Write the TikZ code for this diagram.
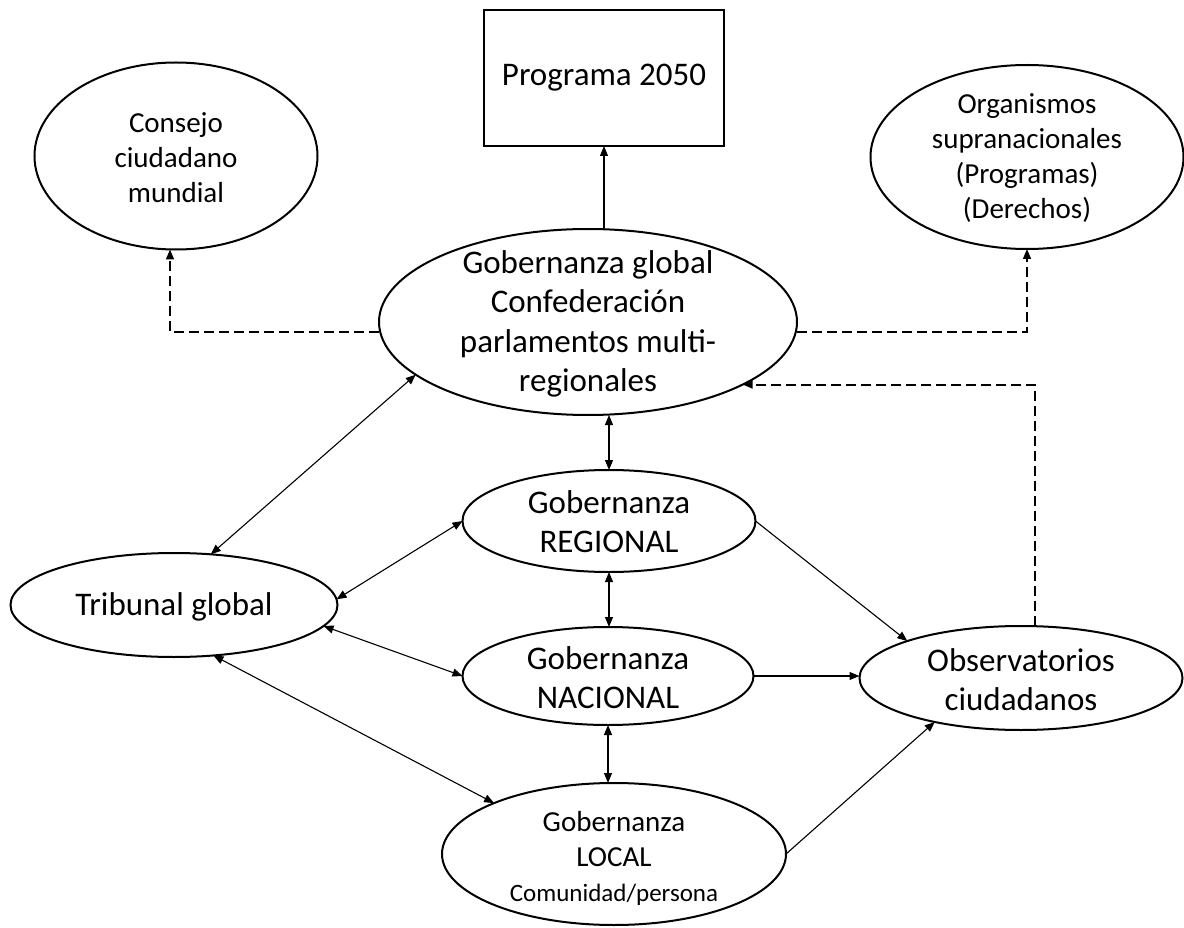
\documentclass[tikz,border=0pt]{standalone}
\usepackage{fontspec}
\setmainfont{Carlito}
\usetikzlibrary{shapes.geometric,arrows.meta}
\newcommand\szA{\fontsize{33}{39}\selectfont}
\newcommand\szB{\fontsize{29}{35}\selectfont}
\newcommand\szC{\fontsize{25}{30}\selectfont}
\newcommand\szG{\fontsize{33}{39.3}\selectfont}
\begin{document}
\begin{tikzpicture}[x=1pt,y=-1pt,
  ell/.style={draw, ellipse, line width=2pt, inner sep=0pt, outer sep=0pt},
  txt/.style={align=center, inner sep=0pt, text=black},
  con/.style={line width=1.1pt, -{Triangle[length=10pt,width=8pt]}},
  bicon/.style={line width=1.1pt, {Triangle[length=10pt,width=8pt]}-{Triangle[length=10pt,width=8pt]}},
  dcon/.style={line width=1.5pt, dash pattern=on 10pt off 5pt, -{Triangle[length=10pt,width=8pt]}},
]
\useasboundingbox (0,0) rectangle (1184,928);
% nodes
\node[draw, line width=2pt, minimum width=240pt, minimum height=136pt, inner sep=0pt, outer sep=0pt] (prog) at (604,78) {};
\node[txt, font=\szA] (progt) at (prog) {Programa 2050};

\node[ell, minimum width=283pt, minimum height=187pt] (cons) at (176,156) {};
\node[txt, font=\szB] (const) at (176,158) {Consejo\\ciudadano\\mundial};

\node[ell, minimum width=313pt, minimum height=184pt] (org) at (1027,157) {};
\node[txt, font=\szB] (orgt) at (1027,158) {Organismos\\supranacionales\\(Programas)\\(Derechos)};

\node[ell, minimum width=418pt, minimum height=186pt] (glob) at (588,322) {};
\node[txt, font=\szG] (globt) at (588,324) {Gobernanza global\\Confederación\\parlamentos multi-\\regionales};

\node[ell, minimum width=293pt, minimum height=102pt] (reg) at (609,521) {};
\node[txt, font=\szA] (regt) at (609,522) {Gobernanza\\REGIONAL};

\node[ell, minimum width=327pt, minimum height=104pt] (trib) at (174,605) {};
\node[txt, font=\szA] (tribt) at (174,607) {Tribunal global};

\node[ell, minimum width=291pt, minimum height=98pt] (nac) at (608,676) {};
\node[txt, font=\szA] (nact) at (608,678) {Gobernanza\\NACIONAL};

\node[ell, minimum width=323pt, minimum height=104pt] (obs) at (1021,678) {};
\node[txt, font=\szA] (obst) at (1021,680) {Observatorios\\ciudadanos};

\node[ell, minimum width=344pt, minimum height=142pt] (loc) at (614,854) {};
\node[txt, font=\szB] (loct) at (614,858) {Gobernanza\\LOCAL\\{\szC Comunidad/persona}};

% connectors
\draw[con] (glob.north -| prog.south) -- (prog.south);
\draw[bicon] (glob.south -| reg.north) -- (reg.north);
\draw[bicon] (reg.south) -- (reg.south |- nac.north);
\draw[bicon] (nac.south) -- (nac.south |- loc.north);

\draw[dcon] ([yshift=-10pt]glob.west) -| ([xshift=-6pt]cons.south);
\draw[dcon] ([yshift=-10pt]glob.east) -| (org.south);
\draw[dcon, line width=2pt] ([xshift=14pt]obs.north) |- (glob.-22);

\draw[bicon] (glob.197) -- (trib.54);
\draw[bicon] (reg.west) -- (trib.2);
\draw[bicon] (trib.-8) -- (nac.west);
\draw[bicon] (trib.-52) -- (loc.157);
\draw[con] (reg.east) -- (obs.162);
\draw[con] (nac.east) -- (nac.east -| obs.west);
\draw[con] (loc.east) -- (obs.207);
\end{tikzpicture}
\end{document}
